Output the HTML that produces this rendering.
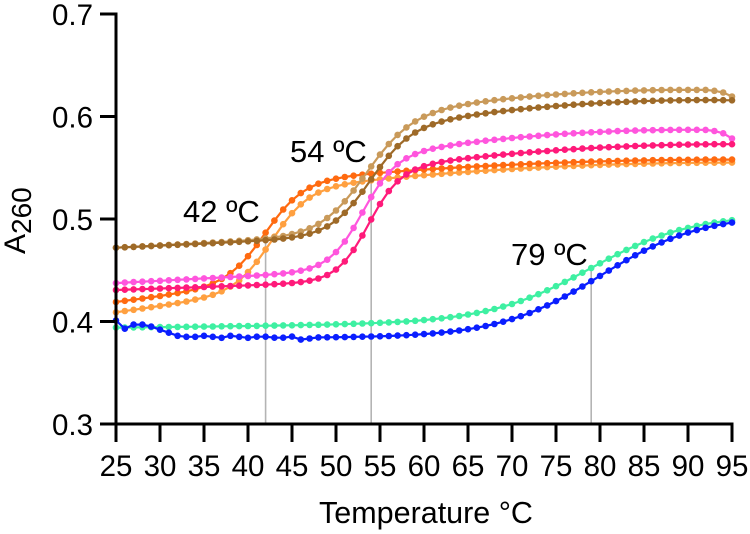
<!DOCTYPE html>
<html><head><meta charset="utf-8"><style>
html,body{margin:0;padding:0;background:#fff;}
svg{display:block;}
text{font-family:"Liberation Sans",Arial,sans-serif;fill:#000;}
</style></head><body>
<svg id="s" width="750" height="534" viewBox="0 0 750 534" xmlns="http://www.w3.org/2000/svg">
<rect width="750" height="534" fill="#fff"/>
<g stroke="#b4b4b4" stroke-width="1.6">
<line x1="265.6" y1="424" x2="265.6" y2="241"/>
<line x1="371.2" y1="424" x2="371.2" y2="178"/>
<line x1="591.2" y1="424" x2="591.2" y2="268"/>
</g>
<g id="series"></g>
<g stroke="#000" stroke-width="3" fill="none">
<line x1="116" y1="12.5" x2="116" y2="425.5"/>
<line x1="114.5" y1="424" x2="733.5" y2="424"/>
<line x1="100" y1="14" x2="116" y2="14"/>
<line x1="100" y1="116.5" x2="116" y2="116.5"/>
<line x1="100" y1="219" x2="116" y2="219"/>
<line x1="100" y1="321.5" x2="116" y2="321.5"/>
<line x1="100" y1="424" x2="116" y2="424"/>
</g>
<g id="xt" stroke="#000" stroke-width="3"></g>
<g font-size="29.5" text-anchor="end">
<text x="93" y="25">0.7</text>
<text x="93" y="127.5">0.6</text>
<text x="93" y="230">0.5</text>
<text x="93" y="332.5">0.4</text>
<text x="93" y="435">0.3</text>
</g>
<g id="xl" font-size="29.5" text-anchor="middle"></g>
<text x="426" y="523" font-size="30.5" text-anchor="middle">Temperature °C</text>
<text transform="translate(25,254) rotate(-90)" font-size="30">A<tspan font-size="28" dy="6">260</tspan></text>
<text x="183" y="222" font-size="31">42 ºC</text>
<text x="290" y="162" font-size="31">54 ºC</text>
<text x="511" y="265" font-size="31">79 ºC</text>
</svg>
<script>
(function(){
var NS="http://www.w3.org/2000/svg";
function X(t){return 116+(t-25)*8.8;}
function Y(a){return 424-(a-0.3)*1025;}
function sig(z){return 1/(1+Math.exp(-z));}
function droop(t,a){ if(t>=95)return a; if(t>=94)return a*0.38; if(t>=93)return a*0.12; return 0;}
function blueBase(t){
  var tb={25:0.401,26:0.393,27:0.397,28:0.397,29:0.395,30:0.392,31:0.389,32:0.386,33:0.385,34:0.385,35:0.386,36:0.385,37:0.384,38:0.386,39:0.385,40:0.384,41:0.385,42:0.385,43:0.384,44:0.384,45:0.385,46:0.382,47:0.383,48:0.384};
  return (t in tb)?tb[t]:0.384;
}
var S=[
 ["#3ef0a2",function(t){var L=0.394+0.0001*(t-25),U=0.505;return L+(U-L)*sig((t-79)/5.8);}],
 ["#0a1eff",function(t){return blueBase(t)+(0.505-0.384)*sig((t-80)/5.8);}],
 ["#ffa040",function(t){var L=0.409+0.0012*(t-25),U=0.555-0.00001*(t-95)*(t-95);return L+(U-L)*sig((t-42.7)/2.1);}],
 ["#ff6a10",function(t){var L=0.419+0.0011*(t-25),U=0.558-0.000008*(t-95)*(t-95);return L+(U-L)*sig((t-42)/2.2);}],
 ["#ff55dd",function(t){var L=0.4375+0.00045*(t-25),U=0.587-0.00002*(t-90)*(t-90);return L+(U-L)*sig((t-52.9)/1.9)-droop(t,0.008);}],
 ["#ff1a7a",function(t){var L=0.4307+0.0003*(t-25),U=0.573-0.000015*(t-95)*(t-95);return L+(U-L)*sig((t-53.6)/1.8);}],
 ["#c99a5a",function(t){var L=0.472+0.00045*(t-25),U=0.626-0.00002*(t-90)*(t-90);return L+(U-L)*sig((t-53.2)/2.6)-droop(t,0.006);}],
 ["#9e6a28",function(t){var L=0.472+0.0004*(t-25),U=0.616-0.00002*(t-92)*(t-92);return L+(U-L)*sig((t-53.7)/2.3);}]
];
var g=document.getElementById("series");
S.forEach(function(s){
  var f=s[1],pts=[];
  for(var t=25;t<=95;t++){pts.push([X(t),Y(f(t))]);}
  var pl=document.createElementNS(NS,"polyline");
  pl.setAttribute("points",pts.map(function(p){return p[0].toFixed(1)+","+p[1].toFixed(1);}).join(" "));
  pl.setAttribute("fill","none");pl.setAttribute("stroke",s[0]);pl.setAttribute("stroke-width","2.2");
  g.appendChild(pl);
  pts.forEach(function(p){
    var c=document.createElementNS(NS,"circle");
    c.setAttribute("cx",p[0].toFixed(1));c.setAttribute("cy",p[1].toFixed(1));c.setAttribute("r","3.3");c.setAttribute("fill",s[0]);
    g.appendChild(c);
  });
});
var xt=document.getElementById("xt"),xl=document.getElementById("xl");
for(var t=25;t<=95;t+=5){
  var l=document.createElementNS(NS,"line");
  l.setAttribute("x1",X(t));l.setAttribute("x2",X(t));l.setAttribute("y1","424");l.setAttribute("y2","442");
  xt.appendChild(l);
  var tx=document.createElementNS(NS,"text");
  tx.setAttribute("x",X(t));tx.setAttribute("y","476");tx.textContent=String(t);
  xl.appendChild(tx);
}
})();
</script>
</body></html>
